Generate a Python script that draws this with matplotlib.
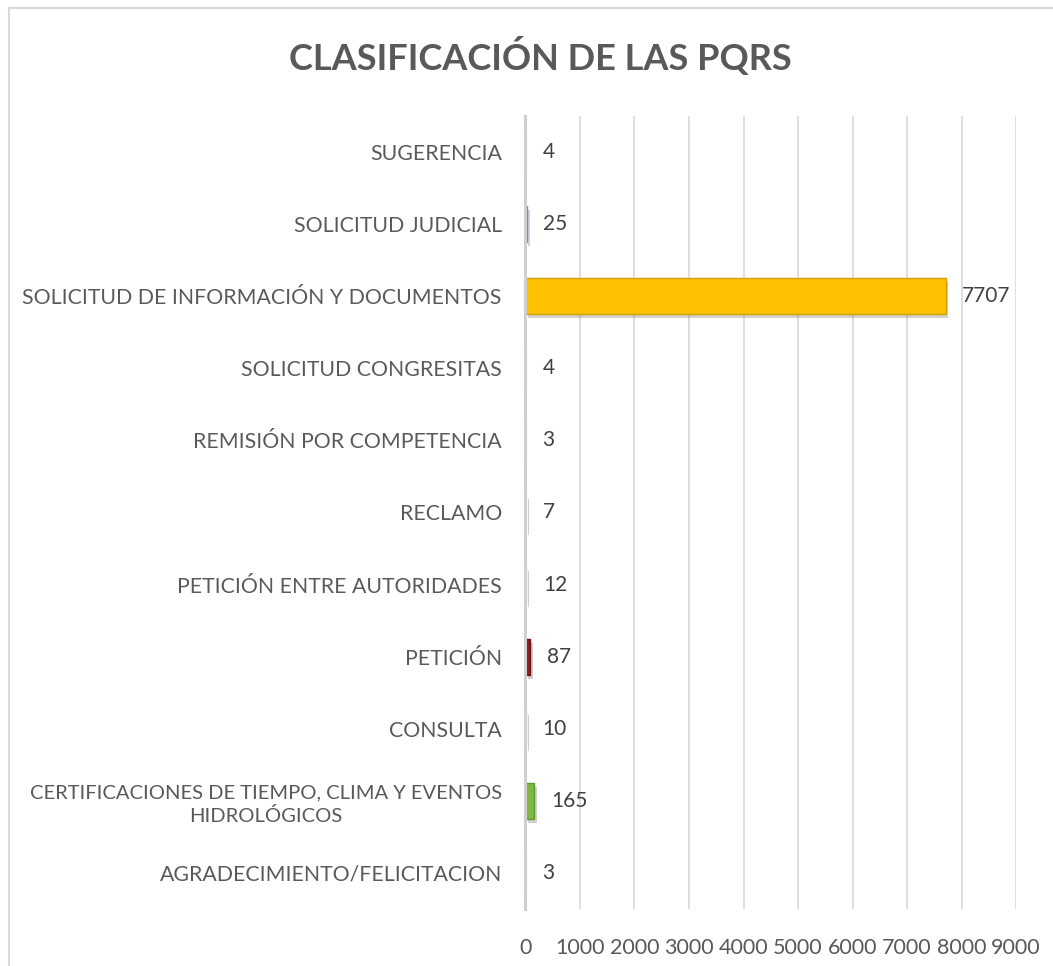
import matplotlib.pyplot as plt
from matplotlib.patches import Rectangle
import matplotlib.patheffects as pe

# categories top to bottom, as in the chart
categories = [
    'SUGERENCIA',
    'SOLICITUD JUDICIAL',
    'SOLICITUD DE INFORMACIÓN Y DOCUMENTOS',
    'SOLICITUD CONGRESITAS',
    'REMISIÓN POR COMPETENCIA',
    'RECLAMO',
    'PETICIÓN ENTRE AUTORIDADES',
    'PETICIÓN',
    'CONSULTA',
    'CERTIFICACIONES DE TIEMPO, CLIMA Y EVENTOS\nHIDROLÓGICOS',
    'AGRADECIMIENTO/FELICITACION',
]
counts = [4, 25, 7707, 4, 3, 7, 12, 87, 10, 165, 3]
bar_colors = ['#EDEDED', '#8FAADC', '#FFC000', '#EDEDED', '#F5F5F5', '#EDEDED',
              '#D6DCE5', '#8B1E1E', '#E7E6E6', '#7DB843', '#F2F2F2']
edge_colors = ['#E0E0E0', '#6F8FC8', '#D4A000', '#E0E0E0', '#E8E8E8', '#E0E0E0',
               '#C0C8D4', '#6E1414', '#D9D9D9', '#5E9A2C', '#E6E6E6']
x_ticks = [0, 1000, 2000, 3000, 4000, 5000, 6000, 7000, 8000, 9000]

plt.rcParams['font.family'] = ['Lato', 'DejaVu Sans']
text_color = '#595959'

fig = plt.figure(figsize=(10.53, 9.66), dpi=100)
ax = fig.add_axes([0.499, 0.059, 0.466, 0.821])

# reverse so the first category sits on top
ypos = list(range(len(categories)))[::-1]
bars = ax.barh(ypos, counts, height=0.5, color=bar_colors, edgecolor=edge_colors,
               linewidth=1.0, zorder=3)
for b in bars:
    b.set_path_effects([pe.SimplePatchShadow(offset=(2, -3), shadow_rgbFace='#808080', alpha=0.35),
                        pe.Normal()])

for y, v in zip(ypos, counts):
    ax.annotate(str(v), (v, y), xytext=(12, 0), textcoords='offset points',
                va='center', ha='left', fontsize=15, color='#404040', zorder=4)

ax.set_xlim(0, 9000)
ax.set_ylim(-0.5, len(categories) - 0.5)
ax.set_xticks(x_ticks)
ax.set_xticklabels([str(t) for t in x_ticks])
ax.set_yticks(ypos)
ax.set_yticklabels(categories, linespacing=1.35)
ax.tick_params(axis='y', length=0, pad=17, labelsize=15.3, labelcolor=text_color)
ax.tick_params(axis='x', length=0, pad=21, labelsize=15.5, labelcolor=text_color)
for lbl in ax.get_yticklabels():
    lbl.set_multialignment('center')
    if lbl.get_text().startswith('CERTIFICACIONES'):
        lbl.set_fontsize(14.5)

ax.grid(axis='x', color='#D9D9D9', linewidth=1.2, zorder=0)
for side in ['top', 'right', 'bottom']:
    ax.spines[side].set_visible(False)
ax.spines['left'].set_color('#D0D0D0')
ax.spines['left'].set_linewidth(2.2)
ax.spines['left'].set_zorder(5)

fig.text(0.513, 0.941, 'CLASIFICACIÓN DE LAS PQRS', ha='center', va='center',
         fontsize=26, fontweight='bold', color=text_color)

# chart border
fig.patches.append(Rectangle((9 / 1053, -0.1), 1.2, 1 - 8 / 966 + 0.1,
                             transform=fig.transFigure, fill=False,
                             edgecolor='#D9D9D9', linewidth=1.5))

plt.savefig('out.png', dpi=100)
plt.close()
